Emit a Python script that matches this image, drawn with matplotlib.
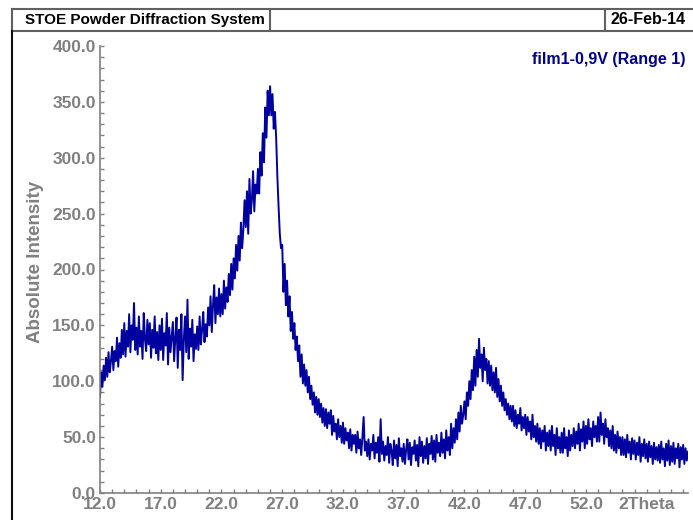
import numpy as np
import matplotlib
matplotlib.use('Agg')
import matplotlib.pyplot as plt
from matplotlib.lines import Line2D
from matplotlib.ticker import MultipleLocator, FixedLocator, FixedFormatter

plt.rcParams['font.family'] = ['Liberation Sans', 'DejaVu Sans']

# scan 12.0 .. 60.4 deg 2theta, step 0.1 (one row per degree)
intensity = [
    86, 108, 95, 114, 101, 121, 104, 126, 108, 118,
    131, 110, 127, 118, 139, 113, 134, 121, 146, 124,
    152, 122, 145, 131, 160, 126, 150, 137, 170, 128,
    148, 124, 158, 131, 145, 120, 161, 138, 127, 155,
    133, 152, 121, 146, 130, 158, 125, 144, 119, 150,
    128, 156, 119, 143, 132, 161, 115, 148, 126, 140,
    153, 118, 139, 157, 112, 146, 128, 160, 101, 137,
    158, 126, 173, 120, 147, 131, 155, 118, 142, 129,
    149, 128, 158, 133, 146, 162, 135, 151, 140, 166,
    150, 176, 144, 168, 186, 152, 175, 160, 183, 158,
    178, 160, 190, 165, 184, 171, 196, 177, 205, 182,
    210, 192, 222, 199, 230, 208, 242, 219, 236, 262,
    238, 270, 232, 281, 250, 262, 288, 252, 276, 268,
    290, 268, 305, 284, 322, 296, 345, 318, 360, 338,
    364, 338, 357, 326, 341, 318, 283, 256, 232, 219,
    222, 180, 205, 168, 190, 158, 176, 145, 162, 138,
    152, 128, 140, 118, 132, 104, 124, 98, 115, 96,
    110, 90, 104, 84, 96, 79, 90, 72, 86, 70,
    84, 68, 80, 63, 76, 60, 75, 58, 72, 62,
    74, 52, 69, 55, 62, 48, 66, 50, 60, 45,
    63, 44, 58, 47, 54, 40, 57, 38, 52, 44,
    52, 36, 55, 40, 48, 34, 50, 68, 38, 46,
    33, 48, 30, 44, 38, 52, 31, 45, 36, 50,
    28, 66, 35, 46, 29, 42, 34, 50, 27, 44,
    38, 25, 47, 31, 43, 24, 49, 33, 40, 28,
    44, 26, 39, 48, 30, 45, 25, 41, 35, 47,
    29, 43, 24, 50, 33, 46, 27, 42, 31, 49,
    26, 44, 35, 51, 30, 47, 28, 52, 36, 45,
    33, 54, 36, 48, 31, 56, 38, 50, 34, 62,
    40, 58, 45, 66, 48, 72, 55, 78, 62, 70,
    82, 66, 90, 78, 100, 84, 110, 92, 122, 96,
    128, 104, 138, 112, 124, 100, 130, 110, 120, 98,
    118, 96, 114, 92, 108, 90, 112, 86, 102, 82,
    96, 78, 90, 74, 84, 70, 80, 66, 78, 64,
    78, 60, 74, 58, 70, 62, 76, 56, 68, 58,
    70, 52, 68, 55, 64, 48, 70, 50, 60, 46,
    62, 44, 58, 40, 56, 46, 60, 38, 54, 42,
    56, 38, 60, 42, 52, 34, 58, 40, 50, 36,
    54, 36, 58, 40, 50, 33, 56, 38, 52, 42,
    58, 40, 55, 44, 62, 38, 57, 46, 64, 40,
    60, 44, 66, 48, 58, 42, 64, 50, 60, 46,
    68, 46, 72, 52, 62, 44, 66, 50, 58, 42,
    56, 40, 60, 38, 52, 36, 55, 40, 50, 34,
    50, 34, 48, 32, 52, 36, 46, 30, 49, 35,
    47, 30, 45, 34, 50, 28, 44, 33, 48, 31,
    44, 28, 46, 32, 42, 26, 45, 30, 41, 29,
    43, 27, 46, 30, 40, 24, 44, 29, 47, 25,
    42, 28, 45, 26, 40, 31, 44, 23, 41, 30,
    43, 26, 40, 29, 37,
]
two_theta = np.round(12.0 + 0.1 * np.arange(len(intensity)), 1)

xticks = [12, 17, 22, 27, 32, 37, 42, 47, 52, 57]
xticklabels = ['12.0', '17.0', '22.0', '27.0', '32.0', '37.0', '42.0', '47.0', '52.0', '2Theta']
yticks = [0, 50, 100, 150, 200, 250, 300, 350, 400]

W, H = 693, 520
fig = plt.figure(figsize=(W / 100, H / 100), dpi=100)
ax = fig.add_axes([100 / W, 1 - 493 / H, 588 / W, 447 / H])

ax.plot(two_theta, intensity, color='#0000a0', lw=1.4)
ax.set_xlim(12, 60.4)
ax.set_ylim(0, 400)

grey = '#808080'
for s in ['top', 'right']:
    ax.spines[s].set_visible(False)
for s in ['left', 'bottom']:
    ax.spines[s].set_color(grey)
    ax.spines[s].set_linewidth(1.2)

ax.xaxis.set_major_locator(FixedLocator(xticks))
ax.xaxis.set_major_formatter(FixedFormatter(xticklabels))
ax.xaxis.set_minor_locator(MultipleLocator(1))
ax.yaxis.set_major_locator(FixedLocator(yticks))
ax.set_yticklabels(['%.1f' % v for v in yticks])
ax.yaxis.set_minor_locator(MultipleLocator(10))
ax.tick_params(which='both', direction='in', color=grey, length=3, width=1)
ax.tick_params(axis='both', labelcolor=grey, labelsize=12.5)
ax.tick_params(axis='x', pad=3)
ax.tick_params(axis='y', pad=3)
for t in ax.get_xticklabels() + ax.get_yticklabels():
    t.set_fontweight('bold')

ax.set_ylabel('Absolute Intensity', color=grey, fontsize=13.5, fontweight='bold')
ax.yaxis.set_label_coords((44 - 100) / 588, (493 - 262) / 447)

ax.text(0.995, 0.97, 'film1-0,9V (Range 1)', transform=ax.transAxes, ha='right', va='center',
        color='#00008b', fontsize=11.5, fontweight='bold')

# header box
def fx(px):
    return px / W

def fy(py):
    return 1 - py / H

hc = '#606060'
for (x0, y0, x1, y1) in [(12, 9, 700, 9), (12, 31, 700, 31), (12, 9, 12, 31), (270, 9, 270, 31), (605, 9, 605, 31)]:
    fig.add_artist(Line2D([fx(x0), fx(x1)], [fy(y0), fy(y1)], color=hc, lw=1.5))
fig.add_artist(Line2D([fx(12), fx(12)], [fy(31), fy(H + 5)], color='#101010', lw=1.5))
fig.text(fx(25), fy(20), 'STOE Powder Diffraction System', ha='left', va='center',
         fontsize=11, fontweight='bold', color='black')
fig.text(fx(686), fy(20), '26-Feb-14', ha='right', va='center',
         fontsize=11.5, fontweight='bold', color='black')

fig.savefig('out.png', dpi=100)
